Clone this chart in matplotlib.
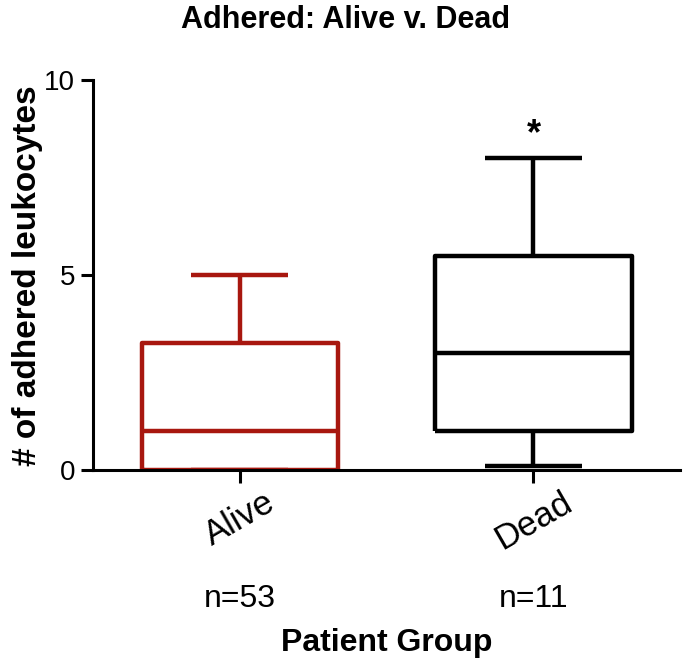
import matplotlib.pyplot as plt

plt.rcParams["font.family"] = ["Liberation Sans", "DejaVu Sans"]

groups = ["Alive", "Dead"]
n_labels = ["n=53", "n=11"]
whislo = [0.0, 0.1]
q1 = [0.0, 1.0]
med = [1.0, 3.0]
q3 = [3.25, 5.5]
whishi = [5.0, 8.0]
colors = ["#a8170f", "black"]
star_group = "Dead"

fig = plt.figure(figsize=(6.85, 6.68), dpi=100)
ax = fig.add_axes([0.136, 0.296, 0.857, 0.584])

for i, g in enumerate(groups):
	stats = [{"label": g, "whislo": whislo[i], "q1": q1[i], "med": med[i],
		"q3": q3[i], "whishi": whishi[i], "fliers": []}]
	lp = {"color": colors[i], "linewidth": 3.2, "solid_capstyle": "butt"}
	ax.bxp(stats, positions=[i + 1], widths=0.67, showfliers=False,
		boxprops=dict(lp), whiskerprops=dict(lp), capprops=dict(lp),
		medianprops=dict(lp), capwidths=0.33)

# significance star
si = groups.index(star_group)
ax.text(si + 1, whishi[si] + 0.15, "*", ha="center", va="bottom",
	fontsize=26, fontweight="bold")

ax.set_xlim(0.5, 2.5)
ax.set_ylim(0, 10)
ax.set_yticks([0, 5, 10])
ax.set_xticks([1, 2])
ax.set_xticklabels(groups, rotation=30, ha="center", fontsize=25)
ax.tick_params(axis="y", labelsize=20, width=2.2, length=9, pad=4)
ax.tick_params(axis="x", width=2.2, length=9, pad=2)
for s in ["top", "right"]:
	ax.spines[s].set_visible(False)
for s in ["left", "bottom"]:
	ax.spines[s].set_linewidth(2.2)

for i, t in enumerate(n_labels):
	ax.text(i + 1, -3.3, t, ha="center", va="center", fontsize=23)

fig.text(0.505, 0.970, "Adhered: Alive v. Dead", ha="center", va="center",
	fontsize=22, fontweight="bold")
ax.set_ylabel("# of adhered leukocytes", fontsize=24, fontweight="bold", labelpad=1)
ax.set_xlabel("Patient Group", fontsize=23, fontweight="bold", labelpad=52)

fig.savefig("out.png", dpi=100)
plt.close()
